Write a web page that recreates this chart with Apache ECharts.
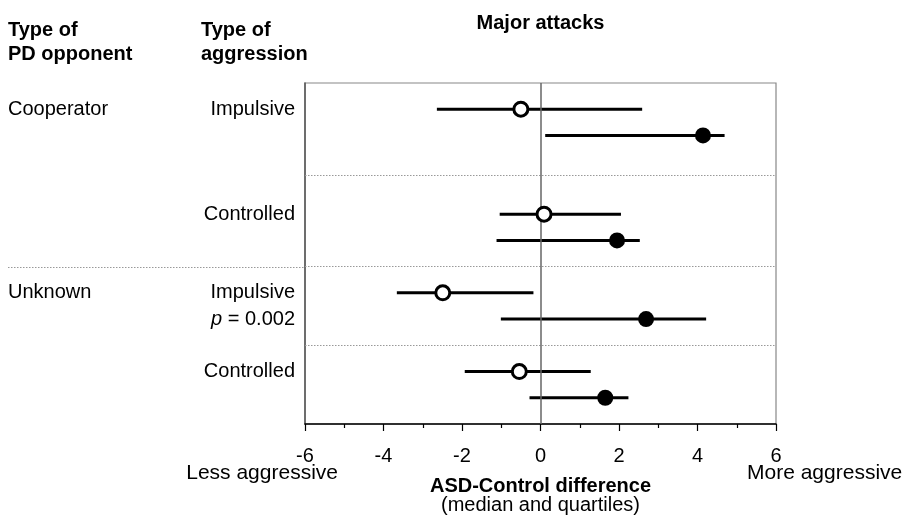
<!DOCTYPE html>
<html>
<head>
<meta charset="utf-8">
<script src="https://cdn.jsdelivr.net/npm/echarts@6/dist/echarts.min.js"></script>
<style>html,body{margin:0;padding:0;background:#fff}#c{width:906px;height:525px}</style>
</head>
<body>
<div id="c"></div>
<script>
// Data (ASD-Control difference: median and quartiles)
const opponents = ['Cooperator', 'Unknown'];
const aggressionTypes = ['Impulsive', 'Controlled', 'Impulsive', 'Controlled'];
const rowOpen = [1, 5, 8, 11];
const rowFilled = [2, 6, 9, 12];
const openMedian = [-0.50, 0.09, -2.49, -0.54];
const openQ1 = [-2.64, -1.04, -3.66, -1.93];
const openQ3 = [2.59, 2.05, -0.18, 1.28];
const filledMedian = [4.14, 1.95, 2.69, 1.65];
const filledQ1 = [0.12, -1.12, -1.01, -0.28];
const filledQ3 = [4.69, 2.53, 4.22, 2.24];
const separators = [3.5, 7, 10];
const xTicks = [-6, -4, -2, 0, 2, 4, 6];

const FONT = "'Liberation Sans', Arial, Helvetica, sans-serif";
const chart = echarts.init(document.getElementById('c'), null, {renderer: 'canvas'});

const whiskers = [];
for (let i = 0; i < 4; i++) {
  whiskers.push([rowOpen[i], openQ1[i], openQ3[i]]);
  whiskers.push([rowFilled[i], filledQ1[i], filledQ3[i]]);
}
const openPts = openMedian.map((v, i) => [v, rowOpen[i]]);
const filledPts = filledMedian.map((v, i) => [v, rowFilled[i]]);

const option = {
  animation: false,
  backgroundColor: '#fff',
  grid: {left: 305, right: 130, top: 83, bottom: 101, show: true, borderColor: '#888', borderWidth: 1.2},
  xAxis: {
    type: 'value', min: xTicks[0], max: xTicks[xTicks.length - 1], interval: 2,
    axisLine: {show: true, onZero: false, lineStyle: {color: '#000', width: 1.5}},
    axisTick: {show: true, length: 7, lineStyle: {color: '#000', width: 1.2}},
    minorTick: {show: true, splitNumber: 2, length: 4, lineStyle: {color: '#000', width: 1.2}},
    axisLabel: {fontFamily: FONT, fontSize: 20, color: '#000', margin: 22},
    splitLine: {show: false}
  },
  yAxis: {
    type: 'value', min: 0, max: 13, inverse: true,
    axisLine: {show: true, onZero: false, lineStyle: {color: '#555', width: 1.5}},
    axisTick: {show: false}, axisLabel: {show: false}, splitLine: {show: false}
  },
  series: [
    {
      type: 'custom', data: whiskers, encode: {x: [1, 2], y: 0}, z: 3,
      renderItem: function (params, api) {
        const y = api.value(0);
        const a = api.coord([api.value(1), y]);
        const b = api.coord([api.value(2), y]);
        return {type: 'line', shape: {x1: a[0], y1: a[1], x2: b[0], y2: b[1]},
          style: {stroke: '#000', lineWidth: 3}};
      },
      markLine: {
        silent: true, symbol: 'none', label: {show: false},
        lineStyle: {color: '#999', type: [1.5, 1.5], width: 1},
        data: separators.map(s => ({yAxis: s}))
      }
    },
    {
      type: 'scatter', data: openPts, symbol: 'circle', symbolSize: 14, z: 5,
      itemStyle: {color: '#fff', borderColor: '#000', borderWidth: 3, opacity: 1},
      markLine: {
        silent: true, symbol: 'none', label: {show: false},
        lineStyle: {color: '#666', type: 'solid', width: 1.5},
        data: [{xAxis: 0}]
      }
    },
    {
      type: 'scatter', data: filledPts, symbol: 'circle', symbolSize: 16, z: 5,
      itemStyle: {color: '#000', opacity: 1}
    }
  ]
};
chart.setOption(option);

const yPx = v => chart.convertToPixel({yAxisIndex: 0}, v);
const xPx = v => chart.convertToPixel({xAxisIndex: 0}, v);
const gl = xPx(xTicks[0]);
const gr = xPx(xTicks[xTicks.length - 1]);
const txt = (x, y, text, opts) => Object.assign({
  type: 'text', z: 10,
  style: Object.assign({x: x, y: y, text: text, fontFamily: FONT, fontSize: 20, fill: '#000',
    textAlign: 'left', textVerticalAlign: 'middle'}, opts || {})
});
const bold = {fontWeight: 'bold'};
const right = {textAlign: 'right'};

const graphics = [
  txt((gl + gr) / 2, 23, 'Major attacks', {fontWeight: 'bold', textAlign: 'center'}),
  txt(8, 30, 'Type of', bold),
  txt(8, 54, 'PD opponent', bold),
  txt(201, 30, 'Type of', bold),
  txt(201, 54, 'aggression', bold),
  txt(8, yPx(rowOpen[0]), opponents[0]),
  txt(8, yPx(rowOpen[2]), opponents[1]),
  txt(gl - 10, yPx(rowOpen[0]), aggressionTypes[0], right),
  txt(gl - 10, yPx(rowOpen[1]), aggressionTypes[1], right),
  txt(gl - 10, yPx(rowOpen[2]), aggressionTypes[2], right),
  {type: 'text', z: 10, style: {x: gl - 10, y: yPx(rowFilled[2]), text: '{i|p} = 0.002',
    fontFamily: FONT, fontSize: 20, fill: '#000', textAlign: 'right', textVerticalAlign: 'middle',
    rich: {i: {fontStyle: 'italic', fontFamily: FONT, fontSize: 20, fill: '#000'}}}},
  txt(gl - 10, yPx(rowOpen[3]), aggressionTypes[3], right),
  txt(gl + 33, 473, 'Less aggressive', {textAlign: 'right', fontSize: 21}),
  txt(gr - 29, 473, 'More aggressive', {fontSize: 21}),
  txt((gl + gr) / 2, 486, 'ASD-Control difference', {fontWeight: 'bold', textAlign: 'center'}),
  txt((gl + gr) / 2, 505, '(median and quartiles)', {textAlign: 'center'}),
  {type: 'line', z: 2, silent: true,
    shape: {x1: 8, y1: Math.round(yPx(separators[1])) + 0.5, x2: gl, y2: Math.round(yPx(separators[1])) + 0.5},
    style: {stroke: '#999', lineWidth: 1, lineDash: [1.5, 1.5]}}
];
chart.setOption({graphic: graphics});
</script>
</body>
</html>
